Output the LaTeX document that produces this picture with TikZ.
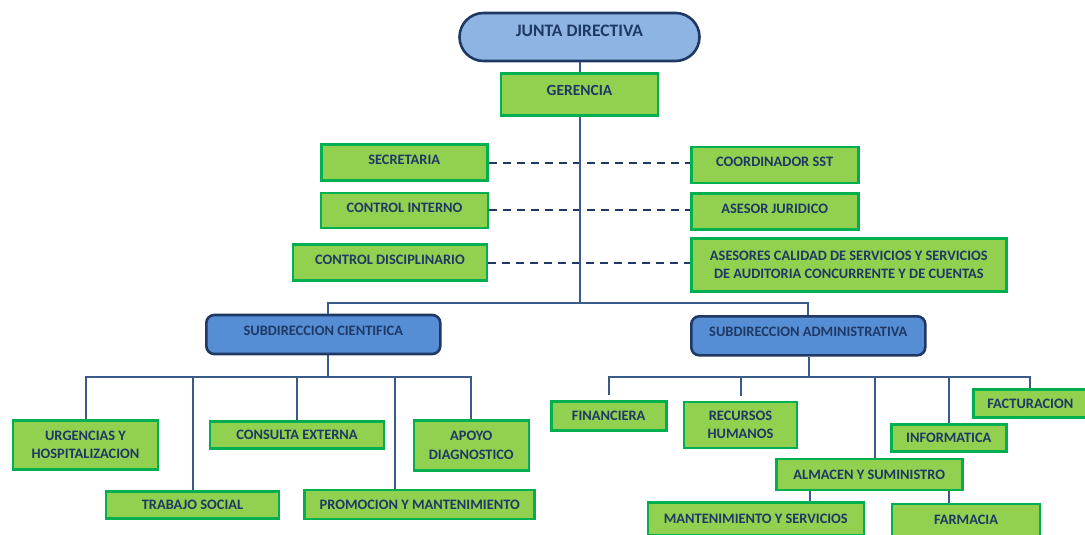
\documentclass[tikz,border=0pt]{standalone}
\usepackage{fontspec}
\setmainfont{Carlito}
\usepackage{tikz}
\usetikzlibrary{positioning, calc}

\definecolor{unitgreen}{HTML}{92D050}
\definecolor{unitedge}{HTML}{00B050}
\definecolor{boardblue}{HTML}{8DB4E2}
\definecolor{subblue}{HTML}{558ED5}
\definecolor{navy}{HTML}{1F3864}
\definecolor{linkblue}{HTML}{3A5A8C}

\begin{document}
\begin{tikzpicture}[
  x = 1pt, y = -1pt,
  every node/.style = {font=\bfseries\fontsize{14.4}{18.5}\selectfont, text=navy},
  unit/.style   = {rectangle, draw=unitedge, line width=2.6pt, fill=unitgreen,
                   align=center, inner sep=0pt},
  staff/.style  = {unit, text depth=6pt},
  head/.style   = {rectangle, rounded corners=8pt, draw=navy, line width=2.6pt,
                   fill=subblue, align=center, inner sep=0pt, text depth=8pt},
  board/.style  = {rectangle, rounded corners=24pt, draw=navy, line width=2.6pt,
                   fill=boardblue, inner sep=0pt, text depth=12pt,
                   font=\bfseries\fontsize{17.5}{20}\selectfont},
  link/.style   = {draw=linkblue, line width=2pt},
  dotlink/.style = {draw=navy, line width=2pt, dash pattern=on 8pt off 6pt}
]
\clip (0,0) rectangle (1085,535);

% ---- direction -----------------------------------------------------------
\node[board, minimum width=240pt, minimum height=48pt, at={(579.5,37)}] (junta) {JUNTA DIRECTIVA};
\node[unit, text depth=9pt, minimum width=157pt, minimum height=42pt, at={(579.5,94.7)},
      font=\bfseries\fontsize{15.5}{18}\selectfont] (gerencia) {GERENCIA};
\draw[link] (junta) -- (gerencia);

% ---- staff units (dashed links) ------------------------------------------
\node[staff, minimum width=166pt, minimum height=36pt, at={(404.2,162.5)}] (secre) {SECRETARIA};
\node[staff, minimum width=167pt, minimum height=35pt, at={(404.5,210.3)}] (cinterno) {CONTROL INTERNO};
\node[staff, minimum width=194pt, minimum height=36pt, at={(390,262.5)}] (cdisc) {CONTROL DISCIPLINARIO};
\node[staff, minimum width=167pt, minimum height=36pt, at={(774.7,165)}] (coord) {COORDINADOR SST};
\node[staff, minimum width=167pt, minimum height=36pt, at={(774.7,211.7)}] (asesor) {ASESOR JURIDICO};
\node[unit, minimum width=315pt, minimum height=53pt, at={(848.8,264.8)}] (calidad)
  {ASESORES CALIDAD DE SERVICIOS Y SERVICIOS\\DE AUDITORIA CONCURRENTE Y DE CUENTAS};

\draw[dotlink] (secre.east) -- (secre.east -| coord.west);
\draw[dotlink] (cinterno.east) -- (cinterno.east -| asesor.west);
\draw[dotlink] (cdisc.east) -- (cdisc.east -| calidad.west);

% ---- sub-directions ------------------------------------------------------
\node[head, minimum width=234pt, minimum height=39pt, at={(323.3,334.5)}] (subcien) {SUBDIRECCION CIENTIFICA};
\node[head, minimum width=234pt, minimum height=39pt, at={(808.3,335.8)}] (subadm) {SUBDIRECCION ADMINISTRATIVA};

\coordinate (gbar) at (580,303.3);
\coordinate (sctop) at ([xshift=5pt]subcien.north);
\draw[link] (gbar |- gerencia.south) -- (gbar);
\draw[link] (sctop) |- (gbar);
\draw[link] (subadm.north) |- (gbar);

% ---- scientific units ----------------------------------------------------
\node[unit, minimum width=145pt, minimum height=49pt, at={(85.5,444.8)}] (urg) {URGENCIAS Y\\HOSPITALIZACION};
\node[unit, minimum width=173pt, minimum height=27pt, at={(192.5,504.7)}] (trabajo) {TRABAJO SOCIAL};
\node[unit, minimum width=174pt, minimum height=27pt, at={(297,434.7)}] (consulta) {CONSULTA EXTERNA};
\node[unit, minimum width=230pt, minimum height=29pt, at={(419.7,504.5)}] (promo) {PROMOCION Y MANTENIMIENTO};
\node[unit, minimum width=115pt, minimum height=50pt, at={(471.3,445.3)}] (apoyo) {APOYO\\DIAGNOSTICO};

\coordinate (cbar) at (328.3,377.3);
\coordinate (pdrop) at ([xshift=-24.7pt]promo.north);
\draw[link] (cbar |- subcien.south) -- (cbar);
\draw[link] (urg.north) |- (cbar);
\draw[link] (trabajo.north) |- (cbar);
\draw[link] (consulta.north) |- (cbar);
\draw[link] (pdrop) |- (cbar);
\draw[link] (apoyo.north) |- (cbar);

% ---- administrative units ------------------------------------------------
\node[unit, minimum width=115pt, minimum height=29pt, at={(608.7,416.2)}] (fin) {FINANCIERA};
\node[unit, minimum width=113pt, minimum height=46pt, at={(740.5,424.9)}] (rrhh) {RECURSOS\\HUMANOS};
\node[unit, minimum width=186pt, minimum height=31pt, at={(869.2,474.5)}] (almacen) {ALMACEN Y SUMINISTRO};
\node[unit, minimum width=115pt, minimum height=27pt, at={(948.8,438)}] (info) {INFORMATICA};
\node[unit, minimum width=114pt, minimum height=28pt, at={(1030.3,403.7)}] (fact) {FACTURACION};
\node[unit, minimum width=216pt, minimum height=33pt, at={(755.8,519)}] (mant) {MANTENIMIENTO Y SERVICIOS};
\node[unit, minimum width=148pt, minimum height=32pt, at={(966,520)}] (farm) {FARMACIA};

\coordinate (abar) at (809.3,377.3);
\coordinate (adrop) at ([xshift=5.8pt]almacen.north);
\draw[link] (abar |- subadm.south) -- (abar);
\draw[link, shorten <=5pt] (fin.north) |- (abar);
\draw[link, shorten <=5pt] (rrhh.north) |- (abar);
\draw[link] (adrop) |- (abar);
\draw[link] (info.north) |- (abar);
\draw[link] (fact.north) |- (abar);

% almacen feeds the two bottom units
\coordinate (mdrop) at ([xshift=54.2pt]mant.north);
\coordinate (fdrop) at ([xshift=-17pt]farm.north);
\draw[link] (mdrop) -- (mdrop |- almacen.south);
\draw[link] (fdrop) -- (fdrop |- almacen.south);

\end{tikzpicture}
\end{document}
